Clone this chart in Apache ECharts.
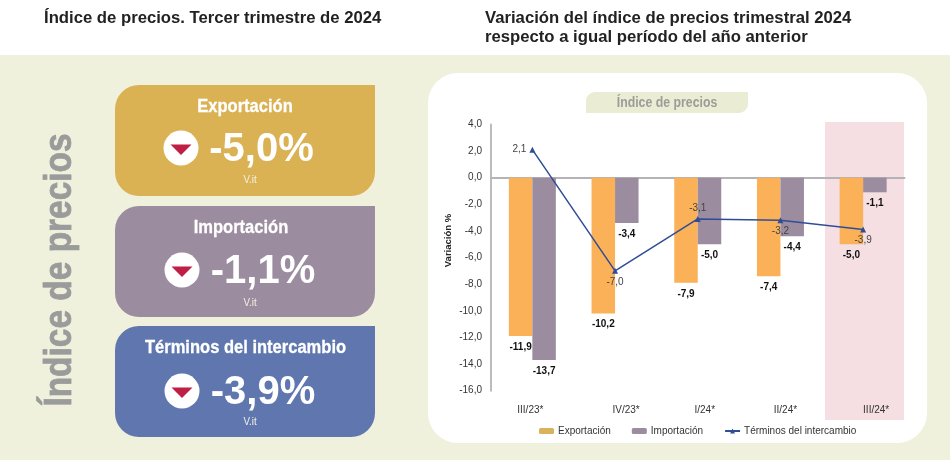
<!DOCTYPE html>
<html><head><meta charset="utf-8">
<style>html,body{margin:0;padding:0;background:#fff}#c{width:950px;height:460px}</style>
<script src="https://cdn.jsdelivr.net/npm/echarts@6/dist/echarts.min.js"></script>
</head><body><div id="c"></div>
<script>
const categories = ['III/23*','IV/23*','I/24*','II/24*','III/24*'];
const exportacion = [-11.9,-10.2,-7.9,-7.4,-5.0];
const importacion = [-13.7,-3.4,-5.0,-4.4,-1.1];
const terminos = [2.1,-7.0,-3.1,-3.2,-3.9];
const cardTitles = ['Exportación','Importación','Términos del intercambio'];
const cardValues = ['-5,0%','-1,1%','-3,9%'];
const cardColors = ['#dab254','#9c8c9f','#5f77ae'];
const cardTops = [85,206,326];
const cardTitleX = [245,241,245.5];
const cardIconX = [181,182,182];
const cardIconY = [148,270,391];
const cardValueX = [261.5,263,263];
const cardUnitY = [180,303,422];
const labelShift = [-2,11,7,5,13];
const comma = v => v.toFixed(1).replace('.',',');
const sans = '"Liberation Sans",Arial,sans-serif';

const graphic = [
 {type:'rect',z:-10,shape:{x:0,y:55,width:950,height:405},style:{fill:'#f0f1dc'},silent:true},
 {type:'rect',z:-9,shape:{x:428,y:73,width:499,height:370,r:30},style:{fill:'#ffffff'},silent:true},
 {type:'rect',z:-8,shape:{x:825,y:122,width:79,height:298},style:{fill:'#f5dfe3'},silent:true},
 {type:'rect',z:-8,shape:{x:586,y:92,width:162,height:21,r:[9,0,9,0]},style:{fill:'#eaecd3'},silent:true},
 {type:'text',z:5,x:667,y:102.5,scaleX:0.82,style:{x:0,y:0,text:'Índice de precios',fill:'#9b9d98',font:'bold 15px '+sans,align:'center',verticalAlign:'middle'}},
 {type:'text',z:5,style:{x:44,y:18,text:'Índice de precios. Tercer trimestre de 2024',fill:'#222',font:'bold 16.7px '+sans,align:'left',verticalAlign:'middle'}},
 {type:'text',z:5,style:{x:485,y:18,text:'Variación del índice de precios trimestral 2024',fill:'#222',font:'bold 16.7px '+sans,align:'left',verticalAlign:'middle'}},
 {type:'text',z:5,style:{x:485,y:37,text:'respecto a igual período del año anterior',fill:'#222',font:'bold 16.7px '+sans,align:'left',verticalAlign:'middle'}},
 {type:'text',z:5,x:61,y:270,rotation:Math.PI/2,scaleX:0.88,style:{x:0,y:0,text:'Índice de precios',fill:'#9a9b9b',stroke:'#9a9b9b',lineWidth:0.8,font:'bold 38px '+sans,align:'center',verticalAlign:'middle'}}
];
cardTitles.forEach((t,i)=>{
 const top=cardTops[i];
 graphic.push({type:'rect',z:-8,shape:{x:115,y:top,width:260,height:111,r:[24,0,24,24]},style:{fill:cardColors[i]},silent:true});
 graphic.push({type:'text',z:5,x:cardTitleX[i],y:top+22,scaleX:0.87,style:{x:0,y:0,text:t,fill:'#fff',stroke:'#fff',lineWidth:0.3,font:'bold 19px '+sans,align:'center',verticalAlign:'middle'}});
 graphic.push({type:'circle',z:5,shape:{cx:cardIconX[i],cy:cardIconY[i],r:17.5},style:{fill:'#fff'},silent:true});
 graphic.push({type:'polygon',z:6,shape:{points:[[cardIconX[i]-10.5,cardIconY[i]-3.5],[cardIconX[i]+10.5,cardIconY[i]-3.5],[cardIconX[i],cardIconY[i]+7]]},style:{fill:'#bf1e45'},silent:true});
 graphic.push({type:'text',z:5,style:{x:cardValueX[i],y:cardIconY[i]+2,text:cardValues[i],fill:'#fff',font:'bold 40px '+sans,align:'center',verticalAlign:'middle'}});
 graphic.push({type:'text',z:5,x:250,y:cardUnitY[i],scaleX:0.85,style:{x:0,y:0,text:'V.it',fill:'#f3efe3',font:'11.5px '+sans,align:'center',verticalAlign:'middle'}});
});

const barLabel={show:true,position:'bottom',distance:6,color:'#111',fontFamily:sans,fontWeight:'bold',fontSize:10,formatter:p=>comma(p.value)};
const lineLabelPos=['left','bottom','top','bottom','bottom'];
const chart=echarts.init(document.getElementById('c'),null,{renderer:'canvas'});
chart.setOption({
 animation:false,
 backgroundColor:'#fff',
 textStyle:{fontFamily:sans},
 graphic:{elements:graphic},
 grid:{left:491,top:124.4,width:413.5,height:266.3},
 legend:{left:534,top:421,itemWidth:15,itemHeight:6,itemGap:21,textStyle:{fontSize:10,color:'#333',fontFamily:sans,padding:[0,0,0,-1]},
  data:[{name:'Exportación',itemStyle:{color:'#d9b35c'}},{name:'Importación',itemStyle:{color:'#9c8c9f'}},{name:'Términos del intercambio'}]},
 xAxis:[
  {type:'category',data:categories,position:'bottom',axisLine:{show:false,onZero:false},axisTick:{show:false},
   axisLabel:{margin:15,interval:0,fontSize:10,color:'#333',fontFamily:sans,
    formatter:(v,i)=>'{s'+i+'|'+v+'}',
    rich:Object.fromEntries(labelShift.map((s,i)=>['s'+i,{fontSize:10,color:'#333',fontFamily:sans,padding:s>=0?[0,0,0,2*s]:[0,-2*s,0,0]}]))}},
  {type:'category',data:categories,position:'bottom',axisLine:{show:true,onZero:true,lineStyle:{color:'#b5b3b5',width:2}},axisTick:{show:false},axisLabel:{show:false}}
 ],
 yAxis:{type:'value',min:-16,max:4,interval:2,name:'Variación %',nameLocation:'middle',nameGap:38,
  nameTextStyle:{fontSize:9.5,fontWeight:'bold',color:'#222',fontFamily:sans,padding:[0,0,0,34]},
  axisLine:{show:true,onZero:false,lineStyle:{color:'#bcbcbc',width:2}},axisTick:{show:false},splitLine:{show:false},
  axisLabel:{margin:9,fontSize:10,color:'#333',fontFamily:sans,formatter:v=>comma(v)}},
 series:[
  {name:'Exportación',type:'bar',data:exportacion,barWidth:23.5,barGap:0,itemStyle:{color:'#fbb157'},label:barLabel,z:2},
  {name:'Importación',type:'bar',data:importacion,barWidth:23.5,barGap:0,itemStyle:{color:'#9c8c9f'},label:barLabel,z:2},
  {name:'Términos del intercambio',type:'line',data:terminos.map((v,i)=>({value:v,label:{position:lineLabelPos[i]}})),
   symbol:'triangle',symbolSize:6,lineStyle:{color:'#2f4d97',width:1.5},itemStyle:{color:'#2f4d97'},
   label:{show:true,color:'#444',fontSize:10,fontFamily:sans,distance:3,formatter:p=>comma(p.value)},z:4}
 ]
});
</script></body></html>
